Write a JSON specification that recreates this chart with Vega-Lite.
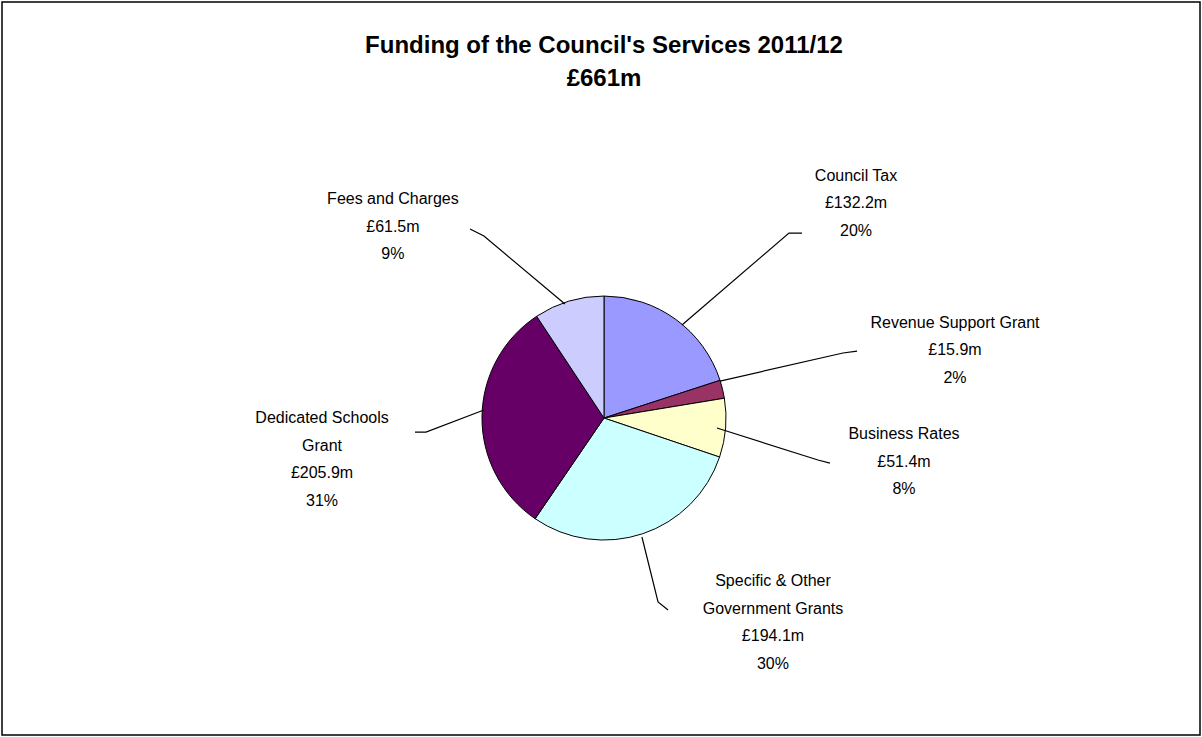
{
  "$schema": "https://vega.github.io/schema/vega-lite/v6.json",
  "width": 1198,
  "height": 733,
  "padding": 2,
  "autosize": "none",
  "background": "white",
  "config": {"view": {"stroke": "black", "strokeWidth": 1.5}, "font": "Liberation Sans"},
  "datasets": {
    "slices": [
      {"source": "Council Tax", "value": 132.2, "ord": 1},
      {"source": "Revenue Support Grant", "value": 15.9, "ord": 2},
      {"source": "Business Rates", "value": 51.4, "ord": 3},
      {"source": "Specific & Other Government Grants", "value": 194.1, "ord": 4},
      {"source": "Dedicated Schools Grant", "value": 205.9, "ord": 5},
      {"source": "Fees and Charges", "value": 61.5, "ord": 6}
    ],
    "labels": [
      {"text": "Fees and Charges\n£61.5m\n9%", "x": -1.73, "y": 1.795},
      {"text": "Council Tax\n£132.2m\n20%", "x": 2.066, "y": 1.984},
      {"text": "Revenue Support Grant\n£15.9m\n2%", "x": 2.877, "y": 0.779},
      {"text": "Business Rates\n£51.4m\n8%", "x": 2.459, "y": -0.131},
      {"text": "Specific & Other\nGovernment Grants\n£194.1m\n30%", "x": 1.385, "y": -1.336},
      {"text": "Dedicated Schools\nGrant\n£205.9m\n31%", "x": -2.311, "y": 0.0}
    ],
    "leaders": [
      {"id": "fees", "seq": 1, "x": -1.098, "y": 1.549},
      {"id": "fees", "seq": 2, "x": -0.984, "y": 1.492},
      {"id": "fees", "seq": 3, "x": -0.32, "y": 0.934},
      {"id": "ct", "seq": 1, "x": 1.623, "y": 1.516},
      {"id": "ct", "seq": 2, "x": 1.516, "y": 1.516},
      {"id": "ct", "seq": 3, "x": 0.639, "y": 0.762},
      {"id": "rsg", "seq": 1, "x": 2.074, "y": 0.549},
      {"id": "rsg", "seq": 2, "x": 1.959, "y": 0.533},
      {"id": "rsg", "seq": 3, "x": 0.951, "y": 0.303},
      {"id": "br", "seq": 1, "x": 1.852, "y": -0.369},
      {"id": "br", "seq": 2, "x": 1.754, "y": -0.344},
      {"id": "br", "seq": 3, "x": 0.926, "y": -0.082},
      {"id": "sp", "seq": 1, "x": 0.525, "y": -1.574},
      {"id": "sp", "seq": 2, "x": 0.443, "y": -1.508},
      {"id": "sp", "seq": 3, "x": 0.311, "y": -0.975},
      {"id": "dsg", "seq": 1, "x": -1.549, "y": -0.115},
      {"id": "dsg", "seq": 2, "x": -1.459, "y": -0.115},
      {"id": "dsg", "seq": 3, "x": -0.984, "y": 0.066}
    ],
    "title": [
      {"text": "Funding of the Council's Services 2011/12\n£661m", "x": 0, "y": 3.049}
    ]
  },
  "layer": [
    {
      "data": {"name": "slices"},
      "mark": {"type": "arc", "radius": 122, "stroke": "black", "strokeWidth": 1},
      "encoding": {
        "x": {"datum": 0, "type": "quantitative", "scale": {"domain": [-4.934, 4.885], "nice": false, "zero": false}, "axis": null},
        "y": {"datum": 0, "type": "quantitative", "scale": {"domain": [-2.598, 3.41], "nice": false, "zero": false}, "axis": null},
        "theta": {"field": "value", "type": "quantitative", "stack": true},
        "order": {"field": "ord", "type": "quantitative"},
        "color": {
          "field": "source", "type": "nominal", "legend": null,
          "scale": {
            "domain": ["Council Tax", "Revenue Support Grant", "Business Rates", "Specific & Other Government Grants", "Dedicated Schools Grant", "Fees and Charges"],
            "range": ["#9999FF", "#993366", "#FFFFCC", "#CCFFFF", "#660066", "#CCCCFF"]
          }
        }
      }
    },
    {
      "data": {"name": "leaders"},
      "mark": {"type": "line", "color": "black", "strokeWidth": 1.2},
      "encoding": {
        "x": {"field": "x", "type": "quantitative"},
        "y": {"field": "y", "type": "quantitative"},
        "detail": {"field": "id"},
        "order": {"field": "seq"}
      }
    },
    {
      "data": {"name": "labels"},
      "transform": [{"calculate": "split(datum.text, '\\n')", "as": "lines"}],
      "mark": {"type": "text", "fontSize": 16, "lineHeight": 27.5, "align": "center", "baseline": "middle", "color": "black"},
      "encoding": {
        "x": {"field": "x", "type": "quantitative"},
        "y": {"field": "y", "type": "quantitative"},
        "text": {"field": "lines"}
      }
    },
    {
      "data": {"name": "title"},
      "transform": [{"calculate": "split(datum.text, '\\n')", "as": "lines"}],
      "mark": {"type": "text", "fontSize": 24, "fontWeight": "bold", "lineHeight": 33, "align": "center", "baseline": "middle", "color": "black"},
      "encoding": {
        "x": {"field": "x", "type": "quantitative"},
        "y": {"field": "y", "type": "quantitative"},
        "text": {"field": "lines"}
      }
    }
  ]
}
